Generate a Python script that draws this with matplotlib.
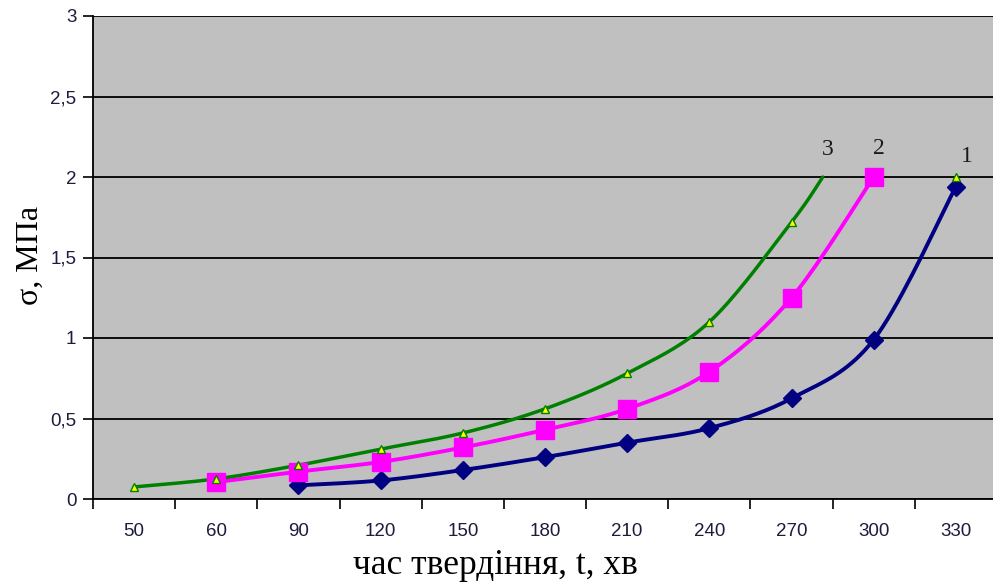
"""
Stress vs. hardening time, three mixes (smoothed Excel-style lines).
"""

import matplotlib

matplotlib.use("Agg")
import matplotlib.pyplot as plt
import numpy as np

# category axis
categories = ["50", "60", "90", "120", "150", "180", "210", "240", "270", "300", "330"]

# curve 1 (navy diamonds), starts at 90 min
pos_1 = [2, 3, 4, 5, 6, 7, 8, 9, 10]
sigma_1 = [0.085, 0.115, 0.18, 0.26, 0.35, 0.44, 0.625, 0.99, 1.94]

# curve 2 (magenta squares), starts at 60 min
pos_2 = [1, 2, 3, 4, 5, 6, 7, 8, 9]
sigma_2 = [0.105, 0.17, 0.23, 0.32, 0.43, 0.56, 0.79, 1.25, 2.0]

# curve 3 (green triangles), line ends between 270 and 300 without a marker
pos_3 = [0, 1, 2, 3, 4, 5, 6, 7, 8]
sigma_3 = [0.075, 0.125, 0.21, 0.31, 0.41, 0.56, 0.78, 1.10, 1.72]
end_pos_3 = 8.38
end_sigma_3 = 2.0

# stray triangle near label "1"
stray_pos = [10]
stray_sigma = [2.0]

curve_labels = ["3", "2", "1"]
label_pos = [8.44, 9.06, 10.13]
label_sigma = [2.17, 2.18, 2.13]


def smooth(xs, ys, n=20):
    """Bezier smoothing like Excel's 'smoothed line'."""
    xs = np.asarray(xs, float)
    ys = np.asarray(ys, float)
    px = np.concatenate([[xs[0]], xs, [xs[-1]]])
    py = np.concatenate([[ys[0]], ys, [ys[-1]]])
    out_x, out_y = [], []
    t = np.linspace(0, 1, n)
    for i in range(1, len(px) - 2):
        p0 = np.array([px[i], py[i]])
        p3 = np.array([px[i + 1], py[i + 1]])
        c1 = p0 + (p3 - np.array([px[i - 1], py[i - 1]])) / 6.0
        c2 = p3 - (np.array([px[i + 2], py[i + 2]]) - p0) / 6.0
        b = (
            ((1 - t) ** 3)[:, None] * p0
            + (3 * (1 - t) ** 2 * t)[:, None] * c1
            + (3 * (1 - t) * t**2)[:, None] * c2
            + (t**3)[:, None] * p3
        )
        out_x.extend(b[:, 0])
        out_y.extend(b[:, 1])
    return np.array(out_x), np.array(out_y)


W, H = 993, 587
fig = plt.figure(figsize=(W / 100, H / 100), dpi=100)
ax = fig.add_axes([93 / W, (H - 499) / H, (997 - 93) / W, (499 - 16) / H])
ax.set_facecolor("#C0C0C0")

ax.set_xlim(-0.5, len(categories) - 0.5)
ax.set_ylim(0, 3)
ax.set_yticks(np.arange(0, 3.01, 0.5))
ax.set_yticklabels(["0", "0,5", "1", "1,5", "2", "2,5", "3"])
ax.yaxis.grid(True, color="black", linewidth=1.3)
ax.set_axisbelow(True)

# category labels centred, tick marks on the boundaries
ax.set_xticks(np.arange(len(categories)))
ax.set_xticklabels(categories)
ax.set_xticks(np.arange(-0.5, len(categories), 1), minor=True)
ax.tick_params(axis="x", which="major", length=0, pad=17)
ax.tick_params(axis="x", which="minor", length=7, width=1.2, direction="out")
ax.tick_params(axis="y", length=7, width=1.2, direction="out", pad=5)
for lab in ax.get_xticklabels() + ax.get_yticklabels():
    lab.set_fontfamily("Liberation Sans")
    lab.set_fontsize(13.5)
    lab.set_color("#1c1c3c")

for side in ["top", "right"]:
    ax.spines[side].set_visible(False)
for side in ["left", "bottom"]:
    ax.spines[side].set_linewidth(1.3)

# curve 1
sx, sy = smooth(pos_1, sigma_1)
ax.plot(sx, sy, color="#000080", lw=2.8, solid_capstyle="round", zorder=3)
ax.plot(pos_1, sigma_1, "D", color="#000080", ms=9, zorder=4)

# curve 2
sx, sy = smooth(pos_2, sigma_2)
ax.plot(sx, sy, color="#FF00FF", lw=2.8, solid_capstyle="round", zorder=3)
ax.plot(pos_2, sigma_2, "s", color="#FF00FF", ms=13, zorder=4)

# curve 3
sx, sy = smooth(pos_3 + [end_pos_3], sigma_3 + [end_sigma_3])
ax.plot(sx, sy, color="#008000", lw=2.5, solid_capstyle="round", zorder=3)
ax.plot(pos_3, sigma_3, "^", mfc="#FFFF00", mec="#008000", mew=1.0, ms=6, zorder=4)
ax.plot(stray_pos, stray_sigma, "^", mfc="#FFFF00", mec="#008000", mew=1.0, ms=6, zorder=5)

for txt, xp, yp in zip(curve_labels, label_pos, label_sigma):
    ax.text(xp, yp, txt, family="Liberation Serif", fontsize=17,
            ha="center", va="center", color="#1a1a1a", zorder=6)

fig.text(30 / W, 1 - 255 / H, "σ, МПа", family="Liberation Serif", fontsize=23,
         rotation=90, ha="center", va="center")
fig.text(495 / W, 1 - 566 / H, "час твердіння, t, хв", family="Liberation Serif",
         fontsize=25.5, ha="center", va="center")

fig.savefig("out.png", dpi=100)
